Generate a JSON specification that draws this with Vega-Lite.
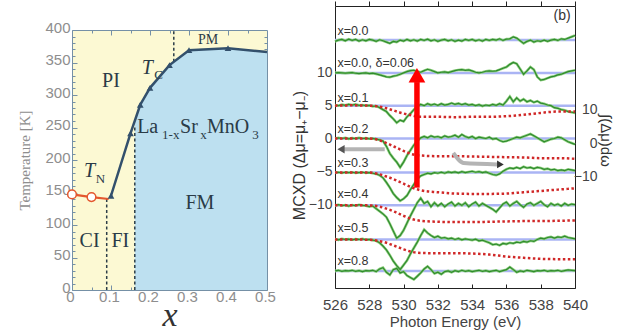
{
 "$schema": "https://vega.github.io/schema/vega-lite/v6.json",
 "background": "white",
 "padding": {"left": 17, "top": 0, "right": 0, "bottom": 0},
 "bounds": "flush",
 "spacing": 263,
 "config": {"axis": {"grid": false, "labelFlush": false, "labelOverlap": false, "labelBound": false}},
 "hconcat": [
  {
   "vconcat": [
    {"width": 195, "height": 24, "data": {"values": []}, "mark": "point", "view": {"stroke": null}},
    {
     "width": 195, "height": 260,
     "view": {"fill": "#fcf9d3", "stroke": "#7590a6", "strokeWidth": 1},
     "resolve": {"axis": {"x": "independent", "y": "independent"}},
     "layer": [
      {"data": {"values": [{"x":0.161,"t":260},{"x":0.175,"t":285},{"x":0.2,"t":311},{"x":0.25,"t":346},{"x":0.3,"t":369},{"x":0.4,"t":372},{"x":0.5,"t":366}]},
       "mark": {"type": "area", "color": "#bde0f0", "opacity": 1},
       "encoding": {
        "x": {"field": "x", "type": "quantitative", "scale": {"domain": [0, 0.5], "nice": false, "zero": false},
              "axis": {"orient": "bottom", "values": [0,0.1,0.2,0.3,0.4,0.5], "format": ".1~f", "labelFont": "Liberation Sans", "labelFontSize": 15, "labelColor": "#8e8e8e", "labelPadding": 4, "labelOffset": -2, "tickSize": -5, "tickColor": "#7590a6", "domain": false,
                       "title": "x", "titleFont": "Liberation Serif", "titleFontStyle": "italic", "titleFontWeight": "normal", "titleFontSize": 34, "titleColor": "#333333", "titlePadding": -6}},
        "y": {"field": "t", "type": "quantitative", "scale": {"domain": [0, 400], "nice": false, "zero": false},
              "axis": {"orient": "left", "values": [0,50,100,150,200,250,300,350,400], "labelFont": "Liberation Sans", "labelFontSize": 15, "labelColor": "#8e8e8e", "labelPadding": 7, "labelOffset": -3, "tickSize": -5, "tickColor": "#7590a6", "domain": false,
                       "title": "Temperature [K]", "titleFont": "Liberation Serif", "titleFontWeight": "normal", "titleFontSize": 15, "titleColor": "#8e8e8e", "titlePadding": 12}},
        "y2": {"datum": 0}
       }},
      {"data": {"values": [{"x":0.089,"t1":0,"t2":140},{"x":0.161,"t1":0,"t2":250},{"x":0.261,"t1":351,"t2":400}]},
       "mark": {"type": "rule", "color": "#2c3e48", "strokeDash": [3, 2.5], "strokeWidth": 1.5},
       "encoding": {"x": {"field": "x", "type": "quantitative", "axis": null}, "y": {"field": "t1", "type": "quantitative", "axis": null}, "y2": {"field": "t2"}}},
      {"data": {"values": [{"x":0,"t":147},{"x":0.05,"t":143},{"x":0.094,"t":140}]},
       "mark": {"type": "line", "color": "#e4572e", "strokeWidth": 2.2},
       "encoding": {"x": {"field": "x", "type": "quantitative", "axis": null}, "y": {"field": "t", "type": "quantitative", "axis": null}}},
      {"data": {"values": [{"x":0,"t":147},{"x":0.05,"t":143}]},
       "mark": {"type": "point", "filled": true, "fill": "white", "stroke": "#e4572e", "strokeWidth": 1.5, "size": 75, "opacity": 1},
       "encoding": {"x": {"field": "x", "type": "quantitative", "axis": null}, "y": {"field": "t", "type": "quantitative", "axis": null}}},
      {"data": {"values": [{"x":0.1,"t":145},{"x":0.15,"t":241},{"x":0.175,"t":285},{"x":0.2,"t":311},{"x":0.25,"t":346},{"x":0.3,"t":369},{"x":0.4,"t":372},{"x":0.5,"t":366}]},
       "mark": {"type": "line", "color": "#33506c", "strokeWidth": 2.5},
       "encoding": {"x": {"field": "x", "type": "quantitative", "axis": null}, "y": {"field": "t", "type": "quantitative", "axis": null}}},
      {"data": {"values": [{"x":0.1,"t":145},{"x":0.15,"t":241},{"x":0.175,"t":285},{"x":0.2,"t":311},{"x":0.25,"t":346},{"x":0.3,"t":369},{"x":0.4,"t":372}]},
       "mark": {"type": "point", "shape": "triangle-up", "filled": true, "color": "#33506c", "size": 45, "opacity": 1},
       "encoding": {"x": {"field": "x", "type": "quantitative", "axis": null}, "y": {"field": "t", "type": "quantitative", "axis": null}}},
      {"data": {"values": [{"s":"PI","x":0.1,"t":321},{"s":"FM","x":0.328,"t":134},{"s":"CI","x":0.045,"t":75},{"s":"FI","x":0.124,"t":76}]},
       "mark": {"type": "text", "font": "Liberation Serif", "fontSize": 20, "color": "#2a3b47", "align": "center", "baseline": "middle"},
       "encoding": {"x": {"field": "x", "type": "quantitative", "axis": null}, "y": {"field": "t", "type": "quantitative", "axis": null}, "text": {"field": "s"}}},
      {"data": {"values": [{"s":"La","x":0.167,"t":251},{"s":"Sr","x":0.277,"t":251},{"s":"MnO","x":0.346,"t":251}]},
       "mark": {"type": "text", "font": "Liberation Serif", "fontSize": 20, "color": "#2a3b47", "align": "left", "baseline": "middle"},
       "encoding": {"x": {"field": "x", "type": "quantitative", "axis": null}, "y": {"field": "t", "type": "quantitative", "axis": null}, "text": {"field": "s"}}},
      {"data": {"values": [{"s":"T","x":0.193,"t":342},{"s":"T","x":0.045,"t":183}]},
       "mark": {"type": "text", "font": "Liberation Serif", "fontStyle": "italic", "fontSize": 20, "color": "#2a3b47", "align": "center", "baseline": "middle"},
       "encoding": {"x": {"field": "x", "type": "quantitative", "axis": null}, "y": {"field": "t", "type": "quantitative", "axis": null}, "text": {"field": "s"}}},
      {"data": {"values": [{"s":"C","x":0.211,"t":331},{"s":"N","x":0.061,"t":171},{"s":"1-x","x":0.231,"t":239},{"s":"x","x":0.329,"t":239},{"s":"3","x":0.462,"t":239}]},
       "mark": {"type": "text", "font": "Liberation Serif", "fontSize": 13, "color": "#2a3b47", "align": "left", "baseline": "middle"},
       "encoding": {"x": {"field": "x", "type": "quantitative", "axis": null}, "y": {"field": "t", "type": "quantitative", "axis": null}, "text": {"field": "s"}}},
      {"data": {"values": [{"s":"PM","x":0.349,"t":385}]},
       "mark": {"type": "text", "font": "Liberation Serif", "fontSize": 14, "color": "#2a3b47", "align": "center", "baseline": "middle"},
       "encoding": {"x": {"field": "x", "type": "quantitative", "axis": null}, "y": {"field": "t", "type": "quantitative", "axis": null}, "text": {"field": "s"}}},
      {"data": {"values": [{"u":0,"w":0}]},
       "mark": {"type": "point", "opacity": 0},
       "encoding": {
        "x": {"field": "u", "type": "quantitative", "axis": {"orient": "bottom", "values": [0.05,0.15,0.25,0.35,0.45], "labels": false, "tickSize": -3, "tickColor": "#7590a6", "domain": false, "title": null}},
        "y": {"field": "w", "type": "quantitative", "axis": {"orient": "left", "values": [10,20,30,40,60,70,80,90,110,120,130,140,160,170,180,190,210,220,230,240,260,270,280,290,310,320,330,340,360,370,380,390], "labels": false, "tickSize": -3, "tickColor": "#7590a6", "domain": false, "title": null}}}},
      {"data": {"values": [{"u":0,"w":0}]},
       "mark": {"type": "point", "opacity": 0},
       "encoding": {
        "x": {"field": "u", "type": "quantitative", "axis": {"orient": "top", "values": [0.1,0.2,0.3,0.4], "labels": false, "tickSize": -5, "tickColor": "#7590a6", "domain": false, "title": null}},
        "y": {"field": "w", "type": "quantitative", "axis": {"orient": "right", "values": [50,100,150,200,250,300,350], "labels": false, "tickSize": -5, "tickColor": "#7590a6", "domain": false, "title": null}}}},
      {"data": {"values": [{"u":0,"w":0}]},
       "mark": {"type": "point", "opacity": 0},
       "encoding": {
        "x": {"field": "u", "type": "quantitative", "axis": {"orient": "top", "values": [0.05,0.15,0.25,0.35,0.45], "labels": false, "tickSize": -3, "tickColor": "#7590a6", "domain": false, "title": null}},
        "y": {"field": "w", "type": "quantitative", "axis": {"orient": "right", "values": [10,20,30,40,60,70,80,90,110,120,130,140,160,170,180,190,210,220,230,240,260,270,280,290,310,320,330,340,360,370,380,390], "labels": false, "tickSize": -3, "tickColor": "#7590a6", "domain": false, "title": null}}}}
     ]
    }
   ],
   "spacing": 0,
   "bounds": "flush"
  },
  {
   "width": 240, "height": 282,
   "view": {"fill": "white", "stroke": "#222222", "strokeWidth": 1},
   "resolve": {"axis": {"x": "independent", "y": "independent"}},
   "layer": [
    {"data": {"values": [{"y":15},{"y":10},{"y":5},{"y":0},{"y":-5.2},{"y":-10.2},{"y":-15.4},{"y":-20.2}]},
     "mark": {"type": "rule", "color": "#aab4f4", "strokeWidth": 2.5},
     "encoding": {"y": {"field": "y", "type": "quantitative", "scale": {"domain": [-22.8, 20.2], "nice": false, "zero": false}, "axis": null}}},
    {"data": {"name": "spec", "values": [
{"e":526.0,"a":14.8,"b":10,"c":5.1,"d":0,"f":-5.2,"g":-10.2,"h":-15.35,"k":-20.2},
{"e":526.2,"a":15,"b":10.05,"c":5,"d":0.1,"f":-5.15,"g":-10.1,"h":-15.45,"k":-20.1},
{"e":526.4,"a":15.1,"b":10,"c":5.15,"d":0,"f":-5.25,"g":-10.25,"h":-15.3,"k":-20.25},
{"e":526.6,"a":14.9,"b":9.95,"c":5.05,"d":0.1,"f":-5.15,"g":-10.15,"h":-15.4,"k":-20.15},
{"e":526.8,"a":15.15,"b":10,"c":5.2,"d":-0.05,"f":-5.2,"g":-10.3,"h":-15.35,"k":-20.2},
{"e":527.0,"a":14.95,"b":10.05,"c":5.1,"d":0.05,"f":-5.15,"g":-10.15,"h":-15.45,"k":-20.1},
{"e":527.2,"a":15.1,"b":9.95,"c":5.2,"d":0,"f":-5.25,"g":-10.25,"h":-15.35,"k":-20.25},
{"e":527.4,"a":14.85,"b":9.9,"c":5.05,"d":0.1,"f":-5.2,"g":-10.1,"h":-15.4,"k":-20.15},
{"e":527.6,"a":15.05,"b":9.95,"c":5.1,"d":0,"f":-5.15,"g":-10.2,"h":-15.3,"k":-20.3},
{"e":527.8,"a":14.9,"b":10,"c":5,"d":0.05,"f":-5.25,"g":-10.25,"h":-15.45,"k":-20.15},
{"e":528.0,"a":15.1,"b":9.9,"c":5.05,"d":-0.05,"f":-5.2,"g":-10.4,"h":-15.4,"k":-20.2},
{"e":528.2,"a":15,"b":9.95,"c":4.9,"d":0,"f":-5.3,"g":-10.3,"h":-15.5,"k":-20.1},
{"e":528.4,"a":14.8,"b":9.85,"c":4.95,"d":-0.1,"f":-5.4,"g":-10.7,"h":-15.6,"k":-20.3},
{"e":528.6,"a":15.05,"b":9.7,"c":4.7,"d":-0.2,"f":-5.6,"g":-11.1,"h":-15.9,"k":-19.9},
{"e":528.8,"a":14.9,"b":9.55,"c":4.4,"d":-0.4,"f":-6.0,"g":-11.5,"h":-16.4,"k":-19.7},
{"e":529.0,"a":14.7,"b":9.4,"c":4.1,"d":-1.2,"f":-6.7,"g":-12.0,"h":-17.0,"k":-20.4},
{"e":529.2,"a":14.5,"b":9.35,"c":3.5,"d":-2.3,"f":-7.5,"g":-13.0,"h":-17.8,"k":-20.8},
{"e":529.4,"a":14.8,"b":9.5,"c":3.0,"d":-3.0,"f":-8.4,"g":-14.1,"h":-18.7,"k":-20.0},
{"e":529.6,"a":14.7,"b":9.6,"c":2.4,"d":-3.6,"f":-9.0,"g":-15.2,"h":-19.4,"k":-19.8},
{"e":529.8,"a":15,"b":9.8,"c":2.8,"d":-4.4,"f":-9.5,"g":-14.8,"h":-20.0,"k":-20.5},
{"e":530.0,"a":14.85,"b":10,"c":2.6,"d":-3.6,"f":-9.2,"g":-14.0,"h":-19.3,"k":-20.3},
{"e":530.2,"a":15.1,"b":10.2,"c":3.3,"d":-2.6,"f":-8.7,"g":-12.9,"h":-18.6,"k":-20.9},
{"e":530.4,"a":14.9,"b":10.35,"c":3.8,"d":-1.8,"f":-7.8,"g":-11.8,"h":-17.6,"k":-21.2},
{"e":530.6,"a":15.05,"b":10.4,"c":4.4,"d":-1.0,"f":-7.0,"g":-10.8,"h":-16.7,"k":-21.5},
{"e":530.8,"a":14.85,"b":10.2,"c":4.9,"d":-0.4,"f":-6.2,"g":-9.8,"h":-15.8,"k":-21.0},
{"e":531.0,"a":15.1,"b":10.1,"c":5.2,"d":0.1,"f":-5.7,"g":-9.1,"h":-14.8,"k":-20.5},
{"e":531.2,"a":14.95,"b":10.35,"c":5,"d":0.3,"f":-5.5,"g":-9.9,"h":-13.9,"k":-19.9},
{"e":531.4,"a":15.15,"b":10.55,"c":5.3,"d":0.1,"f":-5.3,"g":-9.6,"h":-14.4,"k":-19.5},
{"e":531.6,"a":14.9,"b":10.4,"c":5.1,"d":0.4,"f":-5.4,"g":-10.4,"h":-14.8,"k":-20.0},
{"e":531.8,"a":15.05,"b":10.2,"c":5.25,"d":0.2,"f":-5.2,"g":-9.8,"h":-15.1,"k":-20.6},
{"e":532.0,"a":14.8,"b":10,"c":5.05,"d":0.3,"f":-5.3,"g":-10.3,"h":-14.9,"k":-20.4},
{"e":532.2,"a":15,"b":10.1,"c":5.3,"d":0.1,"f":-5.15,"g":-9.9,"h":-15.2,"k":-20.7},
{"e":532.4,"a":15.1,"b":10.15,"c":5.1,"d":0.4,"f":-5.3,"g":-10.4,"h":-15.1,"k":-20.3},
{"e":532.6,"a":14.9,"b":10.05,"c":5.2,"d":0.2,"f":-5.1,"g":-10.0,"h":-15.3,"k":-20.2},
{"e":532.8,"a":15.05,"b":10.2,"c":5.4,"d":0.3,"f":-5.2,"g":-9.7,"h":-15.2,"k":-20.4},
{"e":533.0,"a":14.8,"b":10.35,"c":5.2,"d":0.5,"f":-5.1,"g":-10.3,"h":-15.4,"k":-20.15},
{"e":533.2,"a":15,"b":10.45,"c":5.35,"d":0.2,"f":-5.25,"g":-9.9,"h":-15.25,"k":-20.3},
{"e":533.4,"a":14.85,"b":10.5,"c":5.15,"d":0.6,"f":-5.05,"g":-10.2,"h":-15.45,"k":-20.1},
{"e":533.6,"a":15.1,"b":10.4,"c":5.3,"d":0.3,"f":-5.2,"g":-9.8,"h":-15.3,"k":-20.25},
{"e":533.8,"a":14.95,"b":10.45,"c":5.1,"d":0.1,"f":-5.1,"g":-10.4,"h":-15.4,"k":-20.15},
{"e":534.0,"a":15.1,"b":10.3,"c":5.2,"d":0.3,"f":-5.0,"g":-10.0,"h":-15.5,"k":-20.3},
{"e":534.2,"a":14.9,"b":10.1,"c":5,"d":0,"f":-5.15,"g":-9.7,"h":-15.35,"k":-20.2},
{"e":534.4,"a":15.05,"b":10,"c":5.15,"d":0.2,"f":-5.05,"g":-10.3,"h":-15.6,"k":-20.1},
{"e":534.6,"a":14.85,"b":10.1,"c":4.95,"d":0.1,"f":-5.2,"g":-9.9,"h":-15.5,"k":-20.25},
{"e":534.8,"a":15.1,"b":10.25,"c":5.1,"d":0,"f":-5.1,"g":-10.2,"h":-15.7,"k":-20.15},
{"e":535.0,"a":14.95,"b":10.3,"c":5,"d":0.2,"f":-5.3,"g":-10.5,"h":-15.9,"k":-20.3},
{"e":535.2,"a":15.1,"b":10.25,"c":5.2,"d":-0.1,"f":-5.5,"g":-10.8,"h":-16.2,"k":-20.2},
{"e":535.4,"a":15,"b":10.3,"c":5.05,"d":0,"f":-5.6,"g":-11.2,"h":-16.1,"k":-20.1},
{"e":535.6,"a":15.2,"b":10.5,"c":5.3,"d":-0.3,"f":-5.4,"g":-10.6,"h":-16.3,"k":-20.3},
{"e":535.8,"a":14.95,"b":10.7,"c":5.1,"d":-0.5,"f":-5.0,"g":-10.0,"h":-16.0,"k":-20.15},
{"e":536.0,"a":15.15,"b":10.9,"c":5.7,"d":-0.4,"f":-4.7,"g":-9.7,"h":-16.1,"k":-20.0},
{"e":536.2,"a":15.2,"b":11.3,"c":6.4,"d":-0.2,"f":-4.5,"g":-10.3,"h":-15.9,"k":-19.6},
{"e":536.4,"a":15.5,"b":11.6,"c":5.6,"d":0,"f":-4.6,"g":-9.9,"h":-16.0,"k":-20.0},
{"e":536.6,"a":15.3,"b":11.4,"c":6.2,"d":0.2,"f":-4.4,"g":-9.6,"h":-15.8,"k":-20.4},
{"e":536.8,"a":14.9,"b":10.6,"c":5.7,"d":0.1,"f":-4.6,"g":-10.1,"h":-15.9,"k":-20.2},
{"e":537.0,"a":14.5,"b":9.8,"c":6.0,"d":0.3,"f":-4.3,"g":-10.5,"h":-15.7,"k":-20.3},
{"e":537.2,"a":14.8,"b":10.3,"c":5.6,"d":0.5,"f":-4.5,"g":-10.0,"h":-15.8,"k":-20.1},
{"e":537.4,"a":15,"b":10.9,"c":5.8,"d":0.7,"f":-4.4,"g":-9.8,"h":-15.6,"k":-20.2},
{"e":537.6,"a":14.7,"b":10.5,"c":5.5,"d":0.4,"f":-4.6,"g":-10.2,"h":-15.7,"k":-20.3},
{"e":537.8,"a":14.9,"b":9.4,"c":5.7,"d":0.1,"f":-4.4,"g":-9.9,"h":-15.4,"k":-20.15},
{"e":538.0,"a":14.8,"b":8.9,"c":5.4,"d":-0.2,"f":-4.5,"g":-9.6,"h":-15.2,"k":-20.2},
{"e":538.2,"a":15,"b":9.0,"c":5.3,"d":-0.5,"f":-4.7,"g":-10.1,"h":-15.3,"k":-20.1},
{"e":538.4,"a":14.8,"b":9.2,"c":5.1,"d":-0.3,"f":-4.6,"g":-10.4,"h":-15.1,"k":-20.25},
{"e":538.6,"a":15,"b":9.4,"c":5.0,"d":-0.1,"f":-4.8,"g":-9.9,"h":-15.0,"k":-20.15},
{"e":538.8,"a":15.1,"b":9.5,"c":4.7,"d":0,"f":-4.7,"g":-10.2,"h":-15.2,"k":-20.2},
{"e":539.0,"a":14.95,"b":9.7,"c":4.6,"d":0.2,"f":-4.9,"g":-10.0,"h":-15.0,"k":-20.1},
{"e":539.2,"a":15.2,"b":9.8,"c":4.4,"d":0.1,"f":-4.8,"g":-10.3,"h":-15.1,"k":-20.25},
{"e":539.4,"a":15.1,"b":10.0,"c":4.3,"d":-0.2,"f":-4.9,"g":-9.9,"h":-14.9,"k":-20.15},
{"e":539.6,"a":15.3,"b":10.2,"c":4.1,"d":-0.5,"f":-4.7,"g":-10.2,"h":-15.1,"k":-20.05},
{"e":539.8,"a":15.5,"b":10.3,"c":4.0,"d":-0.7,"f":-4.8,"g":-10.0,"h":-15.2,"k":-20.1},
{"e":540.0,"a":15.7,"b":10.4,"c":3.9,"d":-0.9,"f":-4.9,"g":-10.1,"h":-15.3,"k":-20.15}
     ]},
     "transform": [{"fold": ["a","b","c","d","f","g","h","k"], "as": ["s","v"]}],
     "mark": {"type": "line", "color": "#8fd07e", "strokeWidth": 2.6},
     "encoding": {"x": {"field": "e", "type": "quantitative", "axis": null}, "y": {"field": "v", "type": "quantitative", "axis": null}, "detail": {"field": "s"}}},
    {"data": {"name": "spec"},
     "transform": [{"fold": ["a","b","c","d","f","g","h","k"], "as": ["s","v"]}],
     "mark": {"type": "line", "color": "#2f8a2f", "strokeWidth": 1.2},
     "encoding": {
      "x": {"field": "e", "type": "quantitative", "scale": {"domain": [526, 540], "nice": false, "zero": false},
            "axis": {"orient": "bottom", "values": [526,528,530,532,534,536,538,540], "labelFont": "Liberation Sans", "labelFontSize": 15, "labelColor": "#444444", "labelPadding": 13, "tickSize": -4, "tickColor": "#222222", "domain": false,
                     "title": "Photon Energy (eV)", "titleFont": "Liberation Sans", "titleFontSize": 15, "titleFontWeight": "normal", "titleColor": "#444444", "titlePadding": 2}},
      "y": {"field": "v", "type": "quantitative", "scale": {"domain": [-22.8, 20.2], "nice": false, "zero": false},
            "axis": {"orient": "left", "values": [-10,-5,0,5,10], "labelFont": "Liberation Sans", "labelFontSize": 14, "labelColor": "#444444", "labelPadding": 3, "ticks": false, "domain": false,
                     "title": "MCXD (Δμ=μ₊−μ₋)", "titleFont": "Liberation Sans", "titleFontSize": 16, "titleFontWeight": "normal", "titleColor": "#333333", "titlePadding": 1, "titleY": 149}},
      "detail": {"field": "s"}}},
    {"data": {"values": [
{"e":526,"c":5,"d":0,"f":-5.2,"g":-10.2,"h":-15.4},
{"e":527,"c":5.05,"d":0,"f":-5.2,"g":-10.2,"h":-15.4},
{"e":528,"c":5,"d":0,"f":-5.2,"g":-10.2,"h":-15.45},
{"e":528.5,"c":4.9,"d":-0.2,"f":-5.4,"g":-10.35,"h":-15.6},
{"e":529,"c":4.6,"d":-0.7,"f":-5.8,"g":-10.7,"h":-15.9},
{"e":529.5,"c":4.2,"d":-1.3,"f":-6.3,"g":-11.2,"h":-16.4},
{"e":530,"c":3.8,"d":-1.9,"f":-6.9,"g":-11.8,"h":-16.9},
{"e":530.5,"c":3.5,"d":-2.4,"f":-7.5,"g":-12.3,"h":-17.3},
{"e":531,"c":3.3,"d":-2.6,"f":-7.9,"g":-12.55,"h":-17.45},
{"e":532,"c":3.3,"d":-2.7,"f":-8.2,"g":-12.7,"h":-17.5},
{"e":533,"c":3.25,"d":-2.7,"f":-8.4,"g":-12.75,"h":-17.5},
{"e":534,"c":3.3,"d":-2.75,"f":-8.45,"g":-12.75,"h":-17.55},
{"e":535,"c":3.3,"d":-2.8,"f":-8.45,"g":-12.7,"h":-17.7},
{"e":536,"c":3.4,"d":-2.85,"f":-8.4,"g":-12.65,"h":-18.0},
{"e":537,"c":3.6,"d":-2.9,"f":-8.2,"g":-12.6,"h":-18.2},
{"e":538,"c":3.9,"d":-3.0,"f":-8.0,"g":-12.6,"h":-18.35},
{"e":539,"c":4.1,"d":-3.0,"f":-7.8,"g":-12.55,"h":-18.4},
{"e":540,"c":4.1,"d":-3.1,"f":-7.6,"g":-12.5,"h":-18.4}
     ]},
     "transform": [{"fold": ["c","d","f","g","h"], "as": ["s","v"]}],
     "mark": {"type": "line", "color": "#d02828", "strokeWidth": 2.5, "strokeDash": [2.5, 2.5], "interpolate": "monotone"},
     "encoding": {"x": {"field": "e", "type": "quantitative", "axis": null}, "y": {"field": "v", "type": "quantitative", "axis": null}, "detail": {"field": "s"}}},
    {"data": {"values": [{"e1":526.5,"e2":528.9,"v":-1.65}]},
     "mark": {"type": "rule", "color": "#b4b4b4", "strokeWidth": 4},
     "encoding": {"x": {"field": "e1", "type": "quantitative", "axis": null}, "x2": {"field": "e2"}, "y": {"field": "v", "type": "quantitative", "axis": null}}},
    {"data": {"values": [{"e":532.9,"v":-2.2},{"e":533.2,"v":-3.2},{"e":533.5,"v":-3.75},{"e":535.5,"v":-3.95}]},
     "mark": {"type": "line", "color": "#b4b4b4", "strokeWidth": 4, "interpolate": "monotone"},
     "encoding": {"x": {"field": "e", "type": "quantitative", "axis": null}, "y": {"field": "v", "type": "quantitative", "axis": null}}},
    {"data": {"values": [{"e":526.35,"v":-1.65}]},
     "mark": {"type": "point", "shape": "triangle-left", "filled": true, "color": "#555555", "size": 70, "opacity": 1},
     "encoding": {"x": {"field": "e", "type": "quantitative", "axis": null}, "y": {"field": "v", "type": "quantitative", "axis": null}}},
    {"data": {"values": [{"e":535.65,"v":-3.95}]},
     "mark": {"type": "point", "shape": "triangle-right", "filled": true, "color": "#333333", "size": 60, "opacity": 1},
     "encoding": {"x": {"field": "e", "type": "quantitative", "axis": null}, "y": {"field": "v", "type": "quantitative", "axis": null}}},
    {"data": {"values": [{"e":530.78,"v1":-7.5,"v2":8.6}]},
     "mark": {"type": "rule", "color": "#ff0000", "strokeWidth": 5.5},
     "encoding": {"x": {"field": "e", "type": "quantitative", "axis": null}, "y": {"field": "v1", "type": "quantitative", "axis": null}, "y2": {"field": "v2"}}},
    {"data": {"values": [{"e":530.78,"v":9.65}]},
     "mark": {"type": "point", "shape": "triangle-up", "filled": true, "color": "#ff0000", "size": 280, "opacity": 1},
     "encoding": {"x": {"field": "e", "type": "quantitative", "axis": null}, "y": {"field": "v", "type": "quantitative", "axis": null}}},
    {"data": {"values": [{"t":"x=0.0","e":526.15,"v":16.4},{"t":"x=0.0, δ=0.06","e":526.15,"v":11.5},{"t":"x=0.1","e":526.15,"v":6.2},{"t":"x=0.2","e":526.15,"v":1.4},{"t":"x=0.3","e":526.15,"v":-3.8},{"t":"x=0.4","e":526.15,"v":-8.5},{"t":"x=0.5","e":526.15,"v":-13.6},{"t":"x=0.8","e":526.15,"v":-18.7}]},
     "mark": {"type": "text", "font": "Liberation Sans", "fontSize": 12.5, "color": "#333333", "align": "left", "baseline": "middle"},
     "encoding": {"x": {"field": "e", "type": "quantitative", "axis": null}, "y": {"field": "v", "type": "quantitative", "axis": null}, "text": {"field": "t"}}},
    {"data": {"values": [{"t":"(b)","e":539.75,"v":18.7}]},
     "mark": {"type": "text", "font": "Liberation Sans", "fontSize": 14, "color": "#333333", "align": "right", "baseline": "middle"},
     "encoding": {"x": {"field": "e", "type": "quantitative", "axis": null}, "y": {"field": "v", "type": "quantitative", "axis": null}, "text": {"field": "t"}}},
    {"data": {"values": [{"u":530,"w":0}]},
     "mark": {"type": "point", "opacity": 0},
     "encoding": {
      "x": {"field": "u", "type": "quantitative", "axis": {"orient": "top", "values": [526,528,530,532,534,536,538,540], "labels": false, "tickSize": 5, "tickColor": "#222222", "domain": false, "title": null}},
      "y": {"field": "w", "type": "quantitative", "axis": {"orient": "right", "values": [4.46,-0.75,-5.75], "labelExpr": "datum.value > 2 ? '10' : datum.value > -2 ? '0' : '−10'", "labelAlign": "right", "labelPadding": 22, "ticks": false, "domain": false, "labelFont": "Liberation Sans", "labelFontSize": 14, "labelColor": "#444444",
                  "title": "∫(Δμ)dω", "titleFont": "Liberation Sans", "titleFontSize": 15, "titleFontWeight": "normal", "titleColor": "#333333", "titlePadding": 0, "titleY": 134}}}}
   ]
  }
 ]
}
